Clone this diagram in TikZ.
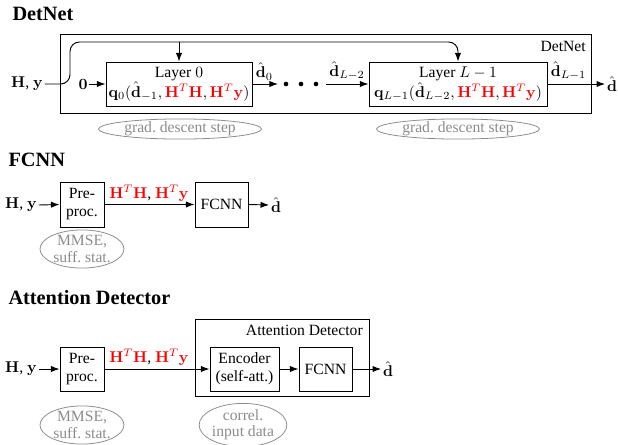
\documentclass[tikz,border=0pt]{standalone}
\usepackage[no-math]{fontspec}
\setmainfont{Liberation Serif}[BoldFont={Liberation Serif Bold}]
\usetikzlibrary{arrows.meta,shapes.geometric}
\newcommand{\hl}[1]{\textcolor{red}{#1}}
\newcommand{\bH}{\mathbf{H}}
\newcommand{\by}{\mathbf{y}}
\newcommand{\bd}{\mathbf{d}}
\begin{document}
\begin{tikzpicture}[x=0.64pt,y=-0.64pt,
  every node/.style={font=\fontsize{10}{11.5}\selectfont},
  box/.style={draw, line width=0.6pt, inner sep=1pt, align=center},
  frame/.style={draw, line width=0.6pt},
  arr/.style={line width=0.6pt, -{Latex[length=5.5pt,width=4pt]}},
  title/.style={anchor=west, font=\fontsize{13}{15}\selectfont\bfseries},
  note/.style={ellipse, draw=black!45, text=black!45, line width=0.5pt, inner sep=0pt, align=center, font=\fontsize{10}{10.5}\selectfont},
  dot/.style={fill, circle, inner sep=0pt, minimum size=3pt}]
\useasboundingbox (0,0) rectangle (618,444);

% ---------------- DetNet ----------------
\node[title] (t1) at (7,14) {DetNet};
\node[frame, minimum width={531*0.64pt}, minimum height={79*0.64pt}] (detbox) at (325.5,73.5) {};
\node[anchor=north east, inner sep=0pt] (detlbl) at (586,41) {DetNet};

\node[box, minimum width={146*0.64pt}, minimum height={44*0.64pt}] (l0) at (179,84)
  {Layer $0$\\ $\mathbf{q}_0(\hat{\bd}_{-1}, \hl{\bH^T\bH}, \hl{\bH^T\by})$};
\node[box, minimum width={178*0.64pt}, minimum height={44*0.64pt}] (l1) at (458,84)
  {Layer $L-1$\\ $\mathbf{q}_{L-1}(\hat{\bd}_{L-2}, \hl{\bH^T\bH}, \hl{\bH^T\by})$};

\node[inner sep=1pt] (hy1) at (27,84) {$\bH$, $\by$};
\node[inner sep=1pt] (zero) at (83,84) {$\mathbf{0}$};
\coordinate (top) at (70,42);

% input routed over the layers
\draw[arr, rounded corners=6pt] (hy1.east) -- (top |- hy1.east) -- (top) -- (l1.north |- top) -- (l1.north);
\draw[arr] (l0.north |- top) -- (l0.north);
\draw[arr] (zero.east) -- (l0.west);

% layer chain
\coordinate (c0) at (278,84);
\draw[arr] (l0.east) -- (c0);
\node[anchor=south west, inner sep=1pt] (d0) at (254,82) {$\hat{\bd}_0$};
\node[dot] (p1) at (286,84) {};
\node[dot] (p2) at (301,84) {};
\node[dot] (p3) at (316,84) {};
\coordinate (c1) at (326,84);
\draw[arr] (c1) -- (l1.west);
\node[anchor=south, inner sep=1pt] (dl2) at (347,82) {$\hat{\bd}_{L-2}$};
\node[inner sep=1pt] (dout1) at (612,84) {$\hat{\bd}$};
\draw[arr] (l1.east) -- (dout1.west);
\node[anchor=south west, inner sep=1pt] (dl1) at (549,82) {$\hat{\bd}_{L-1}$};

\node[note, minimum width={163*0.64pt}, minimum height={15*0.64pt}] (g0) at (180,129) {grad.\ descent step};
\node[note, minimum width={163*0.64pt}, minimum height={15*0.64pt}] (g1) at (458,129) {grad.\ descent step};

% ---------------- FCNN ----------------
\node[title] (t2) at (3,160) {FCNN};
\node[box, minimum width={44*0.64pt}, minimum height={45*0.64pt}] (pre1) at (82,204.5) {Pre-\\proc.};
\node[box, minimum width={53*0.64pt}, minimum height={45*0.64pt}] (fc1) at (221.5,204.5) {FCNN};
\node[inner sep=1pt] (hy2) at (21,205) {$\bH$, $\by$};
\node[inner sep=1pt] (dout2) at (276,205) {$\hat{\bd}$};
\draw[arr] (hy2.east) -- (pre1.west);
\draw[arr] (pre1.east) -- (fc1.west);
\draw[arr] (fc1.east) -- (dout2.west);
\node[anchor=south, inner sep=1pt] (m1) at (149,203) {\hl{$\bH^T\bH$}, \hl{$\bH^T\by$}};
\node[note, minimum width={84*0.64pt}, minimum height={34*0.64pt}] (e1) at (82,249) {MMSE,\\suff.\ stat.};

% ---------------- Attention Detector ----------------
\node[title] (t3) at (3,298) {Attention Detector};
\node[frame, minimum width={174*0.64pt}, minimum height={77*0.64pt}] (attbox) at (282,357.5) {};
\node[anchor=north east, inner sep=0pt] (attlbl) at (363,325) {Attention Detector};
\node[box, minimum width={44*0.64pt}, minimum height={44*0.64pt}] (pre2) at (82,369) {Pre-\\proc.};
\node[box, minimum width={69*0.64pt}, minimum height={44*0.64pt}] (enc) at (244.5,369) {Encoder\\(self-att.)};
\node[box, minimum width={53*0.64pt}, minimum height={44*0.64pt}] (fc2) at (325.5,369) {FCNN};
\node[inner sep=1pt] (hy3) at (21,369) {$\bH$, $\by$};
\node[inner sep=1pt] (dout3) at (388,369) {$\hat{\bd}$};
\draw[arr] (hy3.east) -- (pre2.west);
\draw[arr] (pre2.east) -- (enc.west);
\draw[arr] (enc.east) -- (fc2.west);
\draw[arr] (fc2.east) -- (dout3.west);
\node[anchor=south, inner sep=1pt] (m2) at (149,367) {\hl{$\bH^T\bH$}, \hl{$\bH^T\by$}};
\node[note, minimum width={84*0.64pt}, minimum height={35*0.64pt}] (e2) at (82,425) {MMSE,\\suff.\ stat.};
\node[note, minimum width={86*0.64pt}, minimum height={35*0.64pt}] (e3) at (243,425) {correl.\\input data};
\end{tikzpicture}
\end{document}
